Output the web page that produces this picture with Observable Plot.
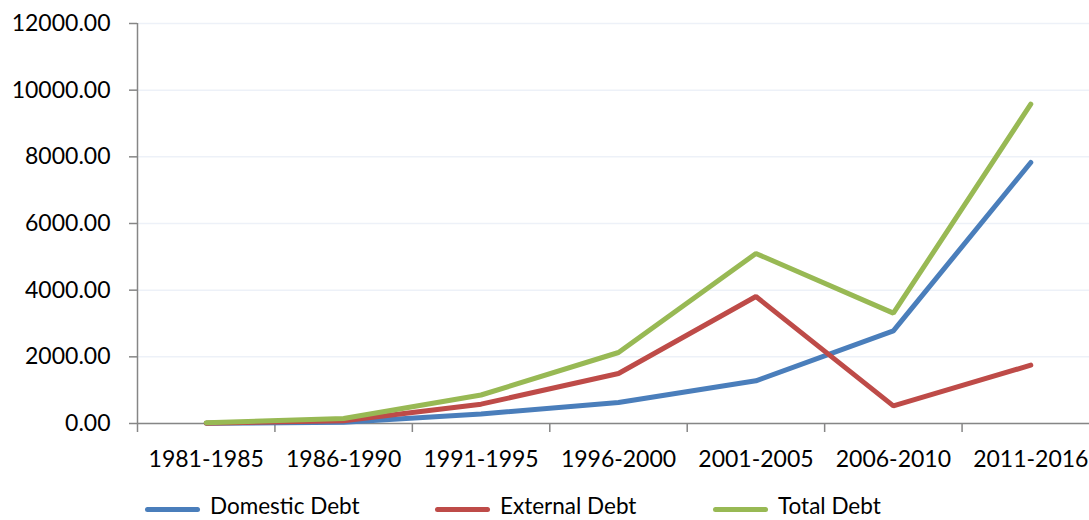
<!DOCTYPE html>
<html>
<head>
<meta charset="utf-8">
<script src="https://cdn.jsdelivr.net/npm/d3@7"></script>
<script src="https://cdn.jsdelivr.net/npm/@observablehq/plot@0.6"></script>
<style>
  html, body { margin: 0; padding: 0; background: #ffffff; }
  body { width: 1089px; font-family: Lato, "Open Sans", sans-serif; }
  #chart svg { display: block; }
  #legend { position: relative; height: 18px; margin-top: 17px; font-size: 22.5px; color: #000; }
  .item { position: absolute; top: 0; height: 18px; white-space: nowrap; }
  .sw { display: inline-block; vertical-align: top; width: 55px; height: 5px; border-radius: 3px; margin-right: 10px; margin-top: 10px; }
  .lbl { display: inline-block; vertical-align: top; height: 18px; line-height: 18px; }
</style>
</head>
<body>
<div id="chart"></div>
<div id="legend"></div>
<script>
const categories = ["1981-1985", "1986-1990", "1991-1995", "1996-2000", "2001-2005", "2006-2010", "2011-2016"];
const seriesNames = ["Domestic Debt", "External Debt", "Total Debt"];
const seriesColors = ["#4a7ebb", "#be4b48", "#98b954"];
const domesticDebt = [5, 40, 285, 630, 1280, 2780, 7830];
const externalDebt = [10, 80, 580, 1500, 3810, 530, 1750];
const totalDebt = [25, 150, 855, 2130, 5100, 3310, 9580];
const yTicks = [0, 2000, 4000, 6000, 8000, 10000, 12000];
const legendLeft = [145, 435, 713];

const seriesValues = [domesticDebt, externalDebt, totalDebt];
const data = [];
seriesNames.forEach((s, k) => {
  categories.forEach((c, i) => data.push({series: s, period: c, value: seriesValues[k][i]}));
});
const xPos = d => categories.indexOf(d.period) + 0.5;
const boundaries = d3.range(0, categories.length + 1);
const centers = categories.map((c, i) => i + 0.5);

const chart = Plot.plot({
  width: 1089,
  height: 480,
  marginLeft: 137,
  marginRight: -10,
  marginTop: 23,
  marginBottom: 57,
  style: {fontFamily: "Lato, 'Open Sans', sans-serif", fontSize: "23px", color: "#000", background: "#fff"},
  x: {type: "linear", domain: [0, categories.length]},
  y: {domain: [0, 12000]},
  color: {domain: seriesNames, range: seriesColors},
  marks: [
    Plot.gridY(yTicks, {stroke: "#edf1f8", strokeOpacity: 1, strokeWidth: 1.5}),
    Plot.axisY({ticks: yTicks, tickFormat: d => d.toFixed(2), tickSize: 8, tickPadding: 19, stroke: "#868686", strokeWidth: 1.5, fill: "#000", label: null}),
    Plot.axisX({ticks: boundaries, tickFormat: () => "", tickSize: 9, stroke: "#868686", strokeWidth: 1.5, label: null}),
    Plot.axisX({ticks: centers, tickFormat: i => categories[i - 0.5], tickSize: 0, tickPadding: 27, fill: "#000", label: null}),
    Plot.ruleX([0], {y1: 0, y2: 12000, stroke: "#868686", strokeWidth: 1.5}),
    Plot.ruleY([0], {stroke: "#868686", strokeWidth: 1.5}),
    Plot.line(data, {x: xPos, y: "value", z: "series", stroke: "series", strokeWidth: 5, strokeLinecap: "round", strokeLinejoin: "miter"})
  ]
});
document.getElementById("chart").appendChild(chart);

const legend = document.getElementById("legend");
seriesNames.forEach((s, k) => {
  const item = document.createElement("div");
  item.className = "item";
  item.style.left = legendLeft[k] + "px";
  const sw = document.createElement("span");
  sw.className = "sw";
  sw.style.background = seriesColors[k];
  const t = document.createElement("span");
  t.className = "lbl";
  t.textContent = s;
  item.appendChild(sw);
  item.appendChild(t);
  legend.appendChild(item);
});
</script>
</body>
</html>
